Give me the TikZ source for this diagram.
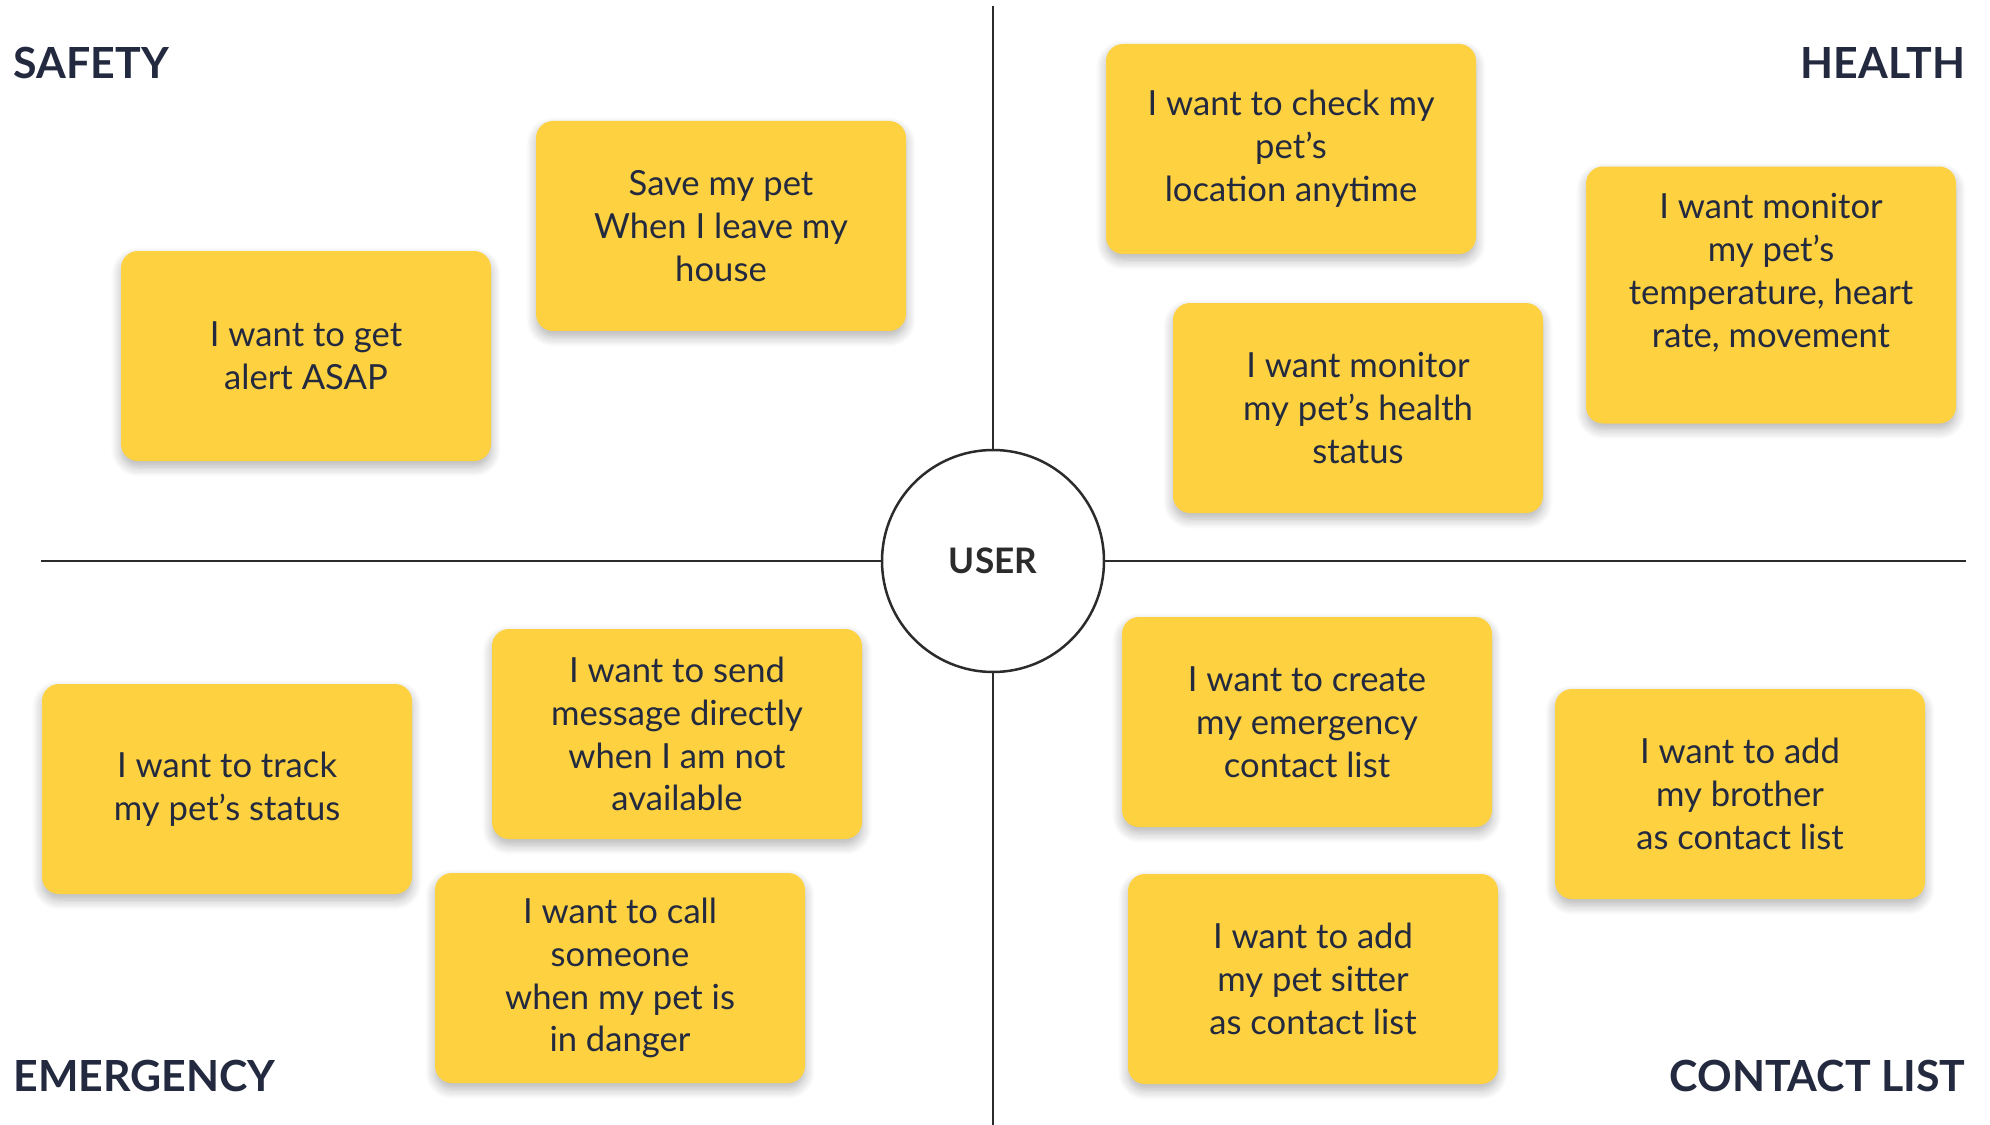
\documentclass[tikz,border=0pt]{standalone}
\usepackage{fontspec}
\setmainfont{Lato}
\usetikzlibrary{shadows.blur}
\definecolor{noteyellow}{HTML}{FDD13F}
\definecolor{inkblue}{HTML}{232A3F}
\definecolor{axisgray}{HTML}{2B2B2B}
\begin{document}
\begin{tikzpicture}
[x=0.1mm,y=-0.1mm,
  notedecorate/.style={shape=rectangle,rounded corners=1.7mm,fill=noteyellow,
    minimum width=37mm,minimum height=21mm,align=center,text=inkblue,
    font=\fontsize{9.85}{12.2}\selectfont,
    blur shadow={shadow xshift=0mm,shadow yshift=-0.6mm,shadow blur radius=1mm,
      shadow blur steps=8,shadow opacity=30}},
  plainnote/.style={},
  tallnote/.style={minimum height=25.7mm,text depth=4.9mm},
  userdecorate/.style={shape=circle,minimum size=22.2mm,draw=axisgray,line width=0.25mm,
    fill=white,text=axisgray,font=\fontsize{10}{12}\selectfont\bfseries},
  titledecorate/.style={text=inkblue,font=\fontsize{12.2}{14}\selectfont\bfseries,inner sep=0pt},
  linedecorate/.style={-,draw=axisgray,line width=0.2mm}]
\useasboundingbox (0,0) rectangle (1990,1125);
%% axes and centre
\node (user) at (993,561) [userdecorate] {USER};
\coordinate (top) at (993,6);
\coordinate (bottom) at (993,1125);
\coordinate (left) at (41,561);
\coordinate (right) at (1966,561);
\path
\foreach \endnode/\anchor in {top/north, bottom/south, left/west, right/east} {
  (user.\anchor) edge[linedecorate] (\endnode)
};
%% quadrant titles
\node (safety) at (13,63) [titledecorate,anchor=west] {SAFETY};
\node (health) at (1966,63) [titledecorate,anchor=east] {HEALTH};
\node (emergency) at (13,1076) [titledecorate,anchor=west] {EMERGENCY};
\node (contact) at (1966,1076) [titledecorate,anchor=east] {CONTACT LIST};
%% sticky notes
\foreach \nodename/\x/\y/\kind/\txt in {
  alert/306/356/plainnote/{I want to get\\alert ASAP},
  save/721/226/plainnote/{Save my pet\\When I leave my\\house},
  location/1291/149/plainnote/{I want to check my\\pet’s\\location anytime},
  vitals/1771/295/tallnote/{I want monitor\\my pet’s\\temperature, heart\\rate, movement},
  healthstatus/1358/408/plainnote/{I want monitor\\my pet’s health\\status},
  track/227/789/plainnote/{I want to track\\my pet’s status},
  message/677/734/plainnote/{I want to send\\message directly\\when I am not\\available},
  call/620/978/plainnote/{I want to call\\someone\\when my pet is\\in danger},
  createlist/1307/722/plainnote/{I want to create\\my emergency\\contact list},
  brother/1740/794/plainnote/{I want to add\\my brother\\as contact list},
  sitter/1313/979/plainnote/{I want to add\\my pet sitter\\as contact list}} {
  \node (\nodename) at (\x,\y) [notedecorate,\kind] {\txt};
}
\end{tikzpicture}
\end{document}
